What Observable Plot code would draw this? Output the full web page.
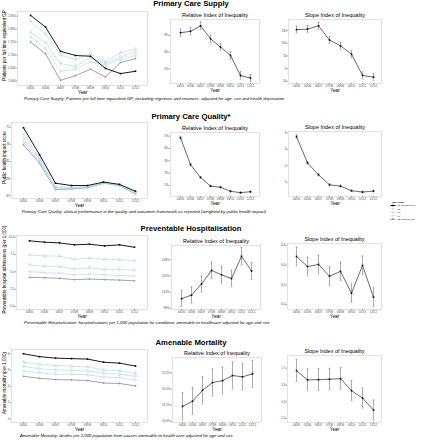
<!DOCTYPE html>
<html><head><meta charset="utf-8">
<script src="https://cdn.jsdelivr.net/npm/d3@7"></script>
<script src="https://cdn.jsdelivr.net/npm/@observablehq/plot@0.6"></script>
<style>
body{margin:0;background:#fff;font-family:"Liberation Sans",Arial,sans-serif;}
#root{position:relative;width:431px;height:440px;overflow:hidden;background:#fff;}
.abs{position:absolute;white-space:nowrap;line-height:1;color:#000;}
.title{font-weight:bold;font-size:7.7px;}
.cap{font-style:italic;font-size:4.3px;}
</style></head><body><div id="root"></div>
<script>
const years = ["04/05","05/06","06/07","07/08","08/09","09/10","10/11","11/12"];
const groups = ["Q1 (most deprived)","Q2","Q3","Q4","Q5 (least deprived)"];

// Primary Care Supply: patients per FTE GP, by IMD quintile
const supplyQ1 = [1853,1808,1714,1698,1695,1648,1628,1637];
const supplyQ2 = [1830,1783,1700,1683,1705,1673,1708,1722];
const supplyQ3 = [1788,1748,1667,1656,1690,1667,1692,1711];
const supplyQ4 = [1770,1725,1637,1645,1674,1660,1682,1698];
const supplyQ5 = [1750,1705,1602,1620,1645,1615,1671,1686];
const supplyRII = [8.65,8.96,10.3,7.2,5.2,3.2,-1.6,-2.2];
const supplyRIIerr = [0.9,0.9,0.9,0.9,0.9,0.9,0.9,0.9];
const supplySII = [154,156,169,113,90,57,-27,-34];
const supplySIIerr = [14,14,14,14,14,14,14,14];

// Primary Care Quality: public health impact score
const qualityQ1 = [75.1,79.8,84.8,85.2,85.2,84.6,85.0,86.2];
const qualityQ2 = [76.2,80.3,85.4,85.5,85.4,84.7,85.1,86.4];
const qualityQ3 = [77.0,80.7,85.6,85.6,85.5,84.7,85.1,86.5];
const qualityQ4 = [77.6,81.0,85.8,85.7,85.6,84.8,85.2,86.6];
const qualityQ5 = [78.1,81.3,85.9,85.8,85.6,84.8,85.2,86.7];
const qualityRII = [4.87,2.69,1.65,0.94,0.85,0.52,0.41,0.49];
const qualityRIIerr = [0.12,0.1,0.08,0.07,0.07,0.06,0.06,0.06];
const qualitySII = [3.77,2.17,1.45,0.84,0.76,0.48,0.40,0.46];
const qualitySIIerr = [0.1,0.08,0.07,0.06,0.06,0.05,0.05,0.05];

// Preventable Hospitalisation per 1,000
const hospQ1 = [9.48,9.28,9.18,8.9,8.99,8.75,8.9,8.55];
const hospQ2 = [7.45,7.3,7.25,6.81,7.0,6.81,6.75,6.62];
const hospQ3 = [6.0,5.8,5.75,5.42,5.57,5.33,5.38,5.23];
const hospQ4 = [5.03,4.88,4.8,4.55,4.7,4.55,4.45,4.4];
const hospQ5 = [4.2,4.15,4.05,3.87,3.95,3.87,3.8,3.7];
const hospRII = [100.8,101.45,103.5,106.0,105.2,104.5,108.6,105.9];
const hospRIIerr = [1.5,1.5,1.5,1.55,1.55,1.55,1.6,1.55];
const hospSII = [6.488,6.386,6.407,6.288,6.336,6.115,6.397,6.074];
const hospSIIerr = [0.095,0.095,0.095,0.095,0.095,0.095,0.095,0.095];

// Amenable Mortality per 1,000
const mortQ1 = [4.0,3.82,3.73,3.7,3.67,3.48,3.42,3.24];
const mortQ2 = [3.49,3.35,3.27,3.23,3.2,3.0,2.96,2.8];
const mortQ3 = [3.22,3.08,3.0,2.98,2.94,2.8,2.74,2.61];
const mortQ4 = [2.94,2.82,2.74,2.74,2.7,2.57,2.53,2.37];
const mortQ5 = [2.61,2.49,2.41,2.39,2.35,2.2,2.17,2.02];
const mortRII = [52.3,53.1,54.8,56.0,56.3,57.1,56.9,57.35];
const mortRIIerr = [2.1,2.1,2.1,2.1,2.1,2.1,2.1,2.1];
const mortSII = [1.686,1.63,1.632,1.634,1.638,1.566,1.522,1.45];
const mortSIIerr = [0.065,0.065,0.065,0.065,0.065,0.06,0.06,0.06];

const root = document.getElementById("root");
const FONT = "Liberation Sans, Arial, sans-serif";
const lightBlue = "#a9d7e8";
const groupStyle = [
  {stroke:"#000", width:0.9, dash:null, symbol:"square", r:0.9, fill:"#000"},
  {stroke:lightBlue, width:0.7, dash:"2,1.2", symbol:"triangle", r:1.1, fill:"none"},
  {stroke:lightBlue, width:0.7, dash:"2,1.2", symbol:"diamond", r:1.1, fill:"none"},
  {stroke:lightBlue, width:0.7, dash:"2,1.2", symbol:"circle", r:1.0, fill:"none"},
  {stroke:"#8c8c8c", width:0.8, dash:null, symbol:"plus", r:0.8, fill:"none"}
];
const hcap = {draw(ctx, size){ const w = Math.sqrt(size/Math.PI); ctx.moveTo(-w,0); ctx.lineTo(w,0); }};

function panel({fx0, fx1, fy0, fy1, left, y, marks, sub, ytitle}) {
  const sl = left ?? (fx0 - 22);
  const st = fy0 - 10;
  const W = fx1 + 3 - sl, H = fy1 + 14 - st;
  const svg = Plot.plot({
    width: W, height: H,
    marginLeft: fx0 - sl, marginRight: W - (fx1 - sl),
    marginTop: fy0 - st, marginBottom: H - (fy1 - st),
    x: {type: "point", domain: years, padding: 0.6},
    y: {domain: y.domain, reverse: !!y.reverse},
    style: {fontFamily: FONT, background: "transparent", overflow: "visible", color: "#4d4d4d"},
    marks: [
      Plot.frame({stroke: "#cfcfcf", strokeWidth: 0.6}),
      Plot.axisX({tickSize: 1.2, tickPadding: 0.3, fontSize: 3, label: null, color: "#4d4d4d", strokeWidth: 0.5}),
      Plot.axisY({ticks: y.ticks, tickFormat: y.fmt, tickSize: 1.4, tickPadding: 0.6, fontSize: 3, label: null, color: "#4d4d4d", strokeWidth: 0.5}),
      Plot.text(["Year"], {frameAnchor: "bottom", lineAnchor: "middle", textAnchor: "middle", dy: 7.2, text: d => d, fontSize: 4.8, fill: "#000"}),
      sub ? Plot.text([sub], {frameAnchor: "top", lineAnchor: "middle", textAnchor: "middle", dy: -4, text: d => d, fontSize: 5.5, fill: "#000"}) : null,
      ytitle ? Plot.text([ytitle], {frameAnchor: "left", lineAnchor: "middle", textAnchor: "middle", dx: -(fx0 - 3.6), dy: -3, rotate: -90, text: d => d, fontSize: 4.5, fill: "#000"}) : null,
      ...marks
    ]
  });
  svg.style.position = "absolute";
  svg.style.left = sl + "px";
  svg.style.top = st + "px";
  root.appendChild(svg);
}

function quintileMarks(arrs) {
  const marks = [];
  [4,3,2,1,0].forEach(gi => {
    const s = groupStyle[gi];
    const d = arrs[gi].map((v, i) => ({year: years[i], value: v}));
    marks.push(Plot.line(d, {x: "year", y: "value", stroke: s.stroke, strokeWidth: s.width, strokeDasharray: s.dash}));
    marks.push(Plot.dot(d, {x: "year", y: "value", symbol: s.symbol, r: s.r, fill: s.fill, stroke: s.fill === "none" ? s.stroke : null, strokeWidth: 0.5}));
  });
  return marks;
}

function indexMarks(vals, errs) {
  const d = vals.map((v, i) => ({year: years[i], value: v, lo: v - errs[i], hi: v + errs[i]}));
  return [
    Plot.ruleX(d, {x: "year", y1: "lo", y2: "hi", stroke: "#8a8a8a", strokeWidth: 0.7}),
    Plot.dot(d, {x: "year", y: "lo", symbol: hcap, r: 1, fill: "none", stroke: "#8a8a8a", strokeWidth: 0.6}),
    Plot.dot(d, {x: "year", y: "hi", symbol: hcap, r: 1, fill: "none", stroke: "#8a8a8a", strokeWidth: 0.6}),
    Plot.line(d, {x: "year", y: "value", stroke: "#444", strokeWidth: 0.8}),
    Plot.dot(d, {x: "year", y: "value", symbol: "square", r: 0.9, fill: "#000"})
  ];
}

const pct = d => d + "%";
const comma = d3.format(",");

// Row 1: Primary Care Supply
panel({fx0: 17, fx1: 147, fy0: 11, fy1: 85, left: 0,
  y: {domain: [1582, 1868], ticks: [1600,1650,1700,1750,1800,1850], fmt: comma},
  ytitle: "Patients per full time equivalent GP",
  marks: quintileMarks([supplyQ1, supplyQ2, supplyQ3, supplyQ4, supplyQ5])});
panel({fx0: 170, fx1: 259, fy0: 19, fy1: 83,
  y: {domain: [-3.5, 11.8], ticks: [0,4,8], fmt: pct},
  sub: "Relative Index of Inequality", marks: indexMarks(supplyRII, supplyRIIerr)});
panel({fx0: 288, fx1: 381, fy0: 19, fy1: 83,
  y: {domain: [-59, 194], ticks: [-50,0,50,100,150], fmt: d => d},
  sub: "Slope Index of Inequality", marks: indexMarks(supplySII, supplySIIerr)});

// Row 2: Primary Care Quality
panel({fx0: 11, fx1: 147, fy0: 122, fy1: 198, left: 0,
  y: {domain: [74.18, 87.47], reverse: true, ticks: [75,78,81,84,87], fmt: d => d},
  ytitle: "Public health impact score",
  marks: quintileMarks([qualityQ1, qualityQ2, qualityQ3, qualityQ4, qualityQ5])});
panel({fx0: 170, fx1: 259, fy0: 132, fy1: 196,
  y: {domain: [0.1, 5.3], ticks: [1,2,3,4,5], fmt: pct},
  sub: "Relative Index of Inequality", marks: indexMarks(qualityRII, qualityRIIerr)});
panel({fx0: 288, fx1: 381, fy0: 131, fy1: 196,
  y: {domain: [0.13, 4.08], ticks: [1,2,3,4], fmt: d => d},
  sub: "Slope Index of Inequality", marks: indexMarks(qualitySII, qualitySIIerr)});

// Row 3: Preventable Hospitalisation
panel({fx0: 16, fx1: 147, fy0: 235, fy1: 309, left: 0,
  y: {domain: [-0.45, 10.25], ticks: [0,2.5,5,7.5,10], fmt: d3.format(".1f")},
  ytitle: "Preventable hospital admissions (per 1,000)",
  marks: quintileMarks([hospQ1, hospQ2, hospQ3, hospQ4, hospQ5])});
panel({fx0: 171, fx1: 260, fy0: 245, fy1: 309,
  y: {domain: [98.8, 110.6], ticks: [99,102,105,108], fmt: pct},
  sub: "Relative Index of Inequality", marks: indexMarks(hospRII, hospRIIerr)});
panel({fx0: 287, fx1: 381, fy0: 243, fy1: 309,
  y: {domain: [5.949, 6.62], ticks: [6.0,6.2,6.4,6.6], fmt: d3.format(".1f")},
  sub: "Slope Index of Inequality", marks: indexMarks(hospSII, hospSIIerr)});

// Row 4: Amenable Mortality
panel({fx0: 11, fx1: 147, fy0: 349, fy1: 422, left: 0,
  y: {domain: [-0.23, 4.26], ticks: [0,1,2,3,4], fmt: d => d},
  ytitle: "Amenable mortality (per 1,000)",
  marks: quintileMarks([mortQ1, mortQ2, mortQ3, mortQ4, mortQ5])});
panel({fx0: 172, fx1: 261, fy0: 357, fy1: 422,
  y: {domain: [49.8, 59.9], ticks: [50,52.5,55,57.5], fmt: d => d3.format(".1f")(d) + "%"},
  sub: "Relative Index of Inequality", marks: indexMarks(mortRII, mortRIIerr)});
panel({fx0: 287, fx1: 381, fy0: 355, fy1: 422,
  y: {domain: [1.376, 1.776], ticks: [1.4,1.5,1.6,1.7], fmt: d3.format(".1f")},
  sub: "Slope Index of Inequality", marks: indexMarks(mortSII, mortSIIerr)});

// Titles and captions
const titles = [
  ["Primary Care Supply", 0.4],
  ["Primary Care Quality*", 113.2],
  ["Preventable Hospitalisation", 225.2],
  ["Amenable Mortality", 338.9]
];
titles.forEach(([t, top]) => {
  const el = document.createElement("div");
  el.className = "abs title";
  el.textContent = t;
  el.style.left = "191px"; el.style.top = top + "px";
  el.style.transform = "translateX(-50%)";
  root.appendChild(el);
});
const captions = [
  ["Primary Care Supply: Patients per full time equivalent GP, excluding registrars and retainers, adjusted for age, sex and health deprivation", 24, 97],
  ["Primary Care Quality: clinical performance in the quality and outcomes framework as reported (weighted by public health impact)", 21.7, 209.6],
  ["Preventable Hospitalisation: hospitalisations per 1,000 population for conditions amenable to healthcare adjusted for age and sex", 24, 320.6],
  ["Amenable Mortality: deaths per 1,000 population from causes amenable to health care adjusted for age and sex", 20, 434.4]
];
captions.forEach(([t, x, top]) => {
  const el = document.createElement("div");
  el.className = "abs cap";
  el.textContent = t;
  el.style.left = x + "px"; el.style.top = top + "px";
  root.appendChild(el);
});

// Legend
const NS = "http://www.w3.org/2000/svg";
const leg = document.createElementNS(NS, "svg");
leg.setAttribute("width", 45); leg.setAttribute("height", 28);
leg.style.position = "absolute"; leg.style.left = "388px"; leg.style.top = "198px";
leg.style.fontFamily = FONT;
let html = `<text x="4" y="4.5" font-size="2.3" font-weight="bold" fill="#000">IMD Group</text>`;
groups.forEach((g, i) => {
  const s = groupStyle[i];
  const yy = 7.5 + i * 3.45;
  html += `<line x1="2.5" x2="7.5" y1="${yy}" y2="${yy}" stroke="${s.stroke}" stroke-width="${s.width}" ${s.dash ? `stroke-dasharray="1.2,0.7"` : ""}/>`;
  html += `<rect x="${5-0.6}" y="${yy-0.6}" width="1.2" height="1.2" fill="${s.fill === "none" ? "none" : s.fill}" stroke="${s.stroke}" stroke-width="0.3"/>`;
  html += `<text x="9.5" y="${yy + 0.75}" font-size="2.1" fill="#000">${g}</text>`;
});
leg.innerHTML = html;
root.appendChild(leg);
</script></body></html>
